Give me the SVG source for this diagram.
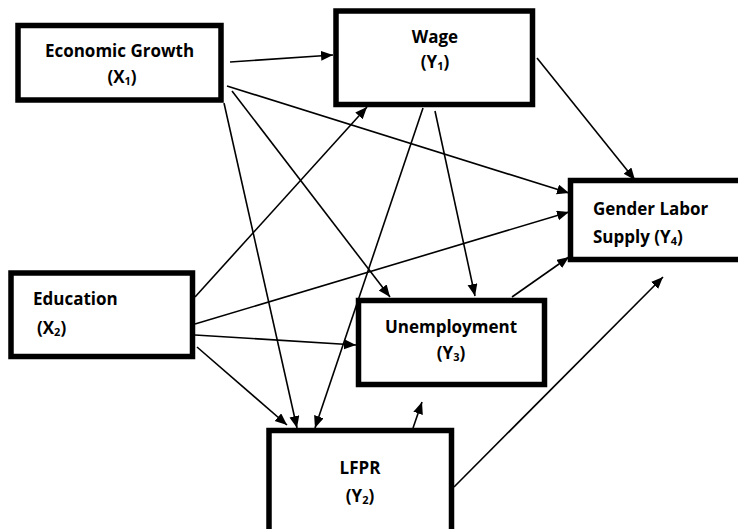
<svg xmlns="http://www.w3.org/2000/svg" width="738" height="529" viewBox="0 0 738 529">
<defs>
<marker id="ah" markerUnits="userSpaceOnUse" markerWidth="13" markerHeight="11" refX="12" refY="5" orient="auto">
<path d="M0,0 L12,5 L0,10 z" fill="#000"/>
</marker>
<style>
.box{fill:#fff;stroke:#000;stroke-width:5.5}
.t{font-family:"Open Sans","Liberation Sans",sans-serif;font-weight:bold;font-size:17px;fill:#000}
.c{text-anchor:middle}
.sub{font-size:11px}
#connectors path{stroke:#000;stroke-width:1.6;fill:none;marker-end:url(#ah)}
</style>
</defs>
<rect width="738" height="529" fill="#fff"/>
<g id="connectors">
<path d="M230,62 L333,55"/>
<path d="M227,86 L569,193"/>
<path d="M232,91 L390,297"/>
<path d="M224,103 L297,428"/>
<path d="M195,297 L367,107"/>
<path d="M195,324 L569,212"/>
<path d="M195,335 L356,345"/>
<path d="M197,347 L287,425"/>
<path d="M423,108 L315,428"/>
<path d="M435,111 L475,296"/>
<path d="M537,58 L635,180"/>
<path d="M512,297 L569,257"/>
<path d="M413,428 L422,402"/>
<path d="M454,487 L663,277"/>
</g>
<g id="economic-growth">
<rect class="box" x="18" y="25.5" width="203" height="74.5"/>
<text class="t c" x="119.5" y="57">Economic Growth</text>
<text class="t c" x="122" y="83">(X<tspan class="sub" dy="2">1</tspan><tspan dy="-2">)</tspan></text>
</g>
<g id="wage">
<rect class="box" x="336" y="11" width="196.5" height="93.5"/>
<text class="t c" x="435" y="43">Wage</text>
<text class="t c" x="435" y="68">(Y<tspan class="sub" dy="2">1</tspan><tspan dy="-2">)</tspan></text>
</g>
<g id="education">
<rect class="box" x="11" y="273" width="181.5" height="83.5"/>
<text class="t" x="33" y="305">Education</text>
<text class="t" x="37" y="334">(X<tspan class="sub" dy="2">2</tspan><tspan dy="-2">)</tspan></text>
</g>
<g id="unemployment">
<rect class="box" x="358.5" y="300.5" width="186" height="84"/>
<text class="t c" x="451" y="333">Unemployment</text>
<text class="t c" x="451" y="359">(Y<tspan class="sub" dy="2">3</tspan><tspan dy="-2">)</tspan></text>
</g>
<g id="gender-labor-supply">
<rect class="box" x="570.5" y="180.5" width="175" height="79"/>
<text class="t" x="593" y="215">Gender Labor</text>
<text class="t" x="593" y="243">Supply (Y<tspan class="sub" dy="2">4</tspan><tspan dy="-2">)</tspan></text>
</g>
<g id="lfpr">
<rect class="box" x="269" y="430.5" width="182.5" height="110"/>
<text class="t c" x="360" y="474">LFPR</text>
<text class="t c" x="360" y="502">(Y<tspan class="sub" dy="2">2</tspan><tspan dy="-2">)</tspan></text>
</g>
</svg>
